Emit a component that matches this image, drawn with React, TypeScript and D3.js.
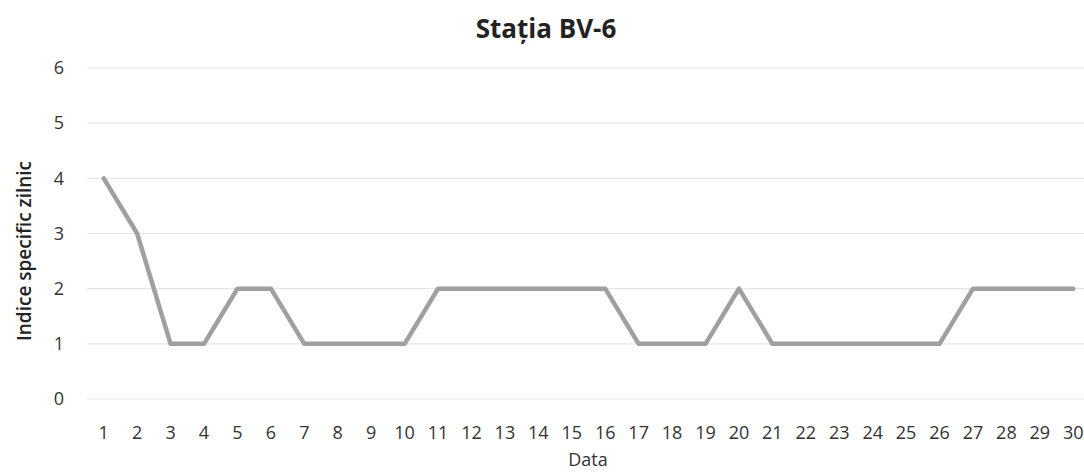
import React from "react";
import * as d3 from "d3";

const days = Array.from({ length: 30 }, (_, i) => String(i + 1));
const values = [4, 3, 1, 1, 2, 2, 1, 1, 1, 1, 2, 2, 2, 2, 2, 2, 1, 1, 1, 2, 1, 1, 1, 1, 1, 1, 2, 2, 2, 2];
const yTicks = [0, 1, 2, 3, 4, 5, 6];

const W = 1084, H = 476;
const left = 87, right = 1090, top = 68, bottom = 399;

export default function App() {
  const x = d3.scaleBand().domain(days).range([left, right]);
  const y = d3.scaleLinear().domain([0, 6]).range([bottom, top]);
  const line = d3.line<number>().x((_, i) => (x(days[i]) as number) + x.bandwidth() / 2).y((d) => y(d));
  const font = "'Open Sans', Calibri, sans-serif";
  return (
    <svg width={W} height={H} style={{ position: "absolute", left: 0, top: 0, background: "#fff" }}>
      <text x={546} y={38} textAnchor="middle" fontFamily={font} fontWeight="bold" fontSize={26} fill="#222">Stația BV-6</text>
      {yTicks.map((t) => (
        <g key={t}>
          <line x1={left} x2={right} y1={y(t)} y2={y(t)} stroke="#e6e6e6" strokeWidth={1.2} />
          <text x={59} y={y(t)} dy="0.35em" textAnchor="middle" fontFamily={font} fontSize={18} fill="#333">{t}</text>
        </g>
      ))}
      {days.map((d) => (
        <text key={d} x={(x(d) as number) + x.bandwidth() / 2} y={439} textAnchor="middle" fontFamily={font} fontSize={18} fill="#333">{d}</text>
      ))}
      <path d={line(values) || ""} fill="none" stroke="#a0a0a0" strokeWidth={4.5} strokeLinejoin="round" strokeLinecap="round" />
      <text x={588} y={466} textAnchor="middle" fontFamily={font} fontSize={18} fill="#333">Data</text>
      <text transform={`translate(31, 251) rotate(-90)`} textAnchor="middle" fontFamily={font} fontWeight="600" fontSize={19} fill="#222">Indice specific zilnic</text>
    </svg>
  );
}
